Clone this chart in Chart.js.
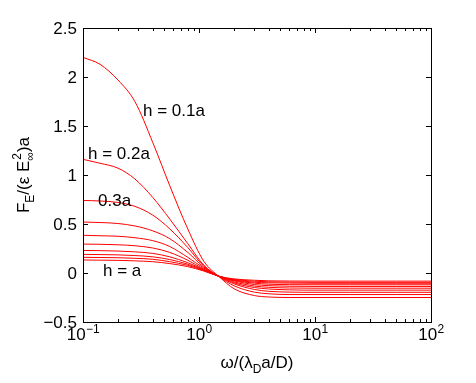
<!DOCTYPE html>
<html>
<head>
<meta charset="utf-8">
<script src="https://cdn.jsdelivr.net/npm/chart.js@4/dist/chart.umd.min.js"></script>
<style>
  html, body { margin: 0; padding: 0; background: #fff; }
  canvas { display: block; }
</style>
</head>
<body>
<canvas id="chart" width="476" height="383"></canvas>
<script>
// frequency samples, omega / (lambda_D a / D)
const omega = [0.1, 0.14, 0.2, 0.28, 0.4, 0.56, 0.8, 1.1, 1.5, 2, 3, 4, 6, 10, 20, 50, 100];

// F_E / (eps E_inf^2) a for h = 0.1a ... h = a
const h01 = [2.2, 2.13, 1.97, 1.75, 1.33, 0.89, 0.45, 0.12, -0.04, -0.16, -0.23, -0.245, -0.25, -0.25, -0.25, -0.25, -0.25];
const h02 = [1.16, 1.12, 1.07, 0.96, 0.77, 0.55, 0.30, 0.08, -0.04, -0.13, -0.195, -0.212, -0.22, -0.22, -0.22, -0.22, -0.22];
const h03 = [0.74, 0.735, 0.72, 0.68, 0.59, 0.45, 0.26, 0.07, -0.04, -0.11, -0.168, -0.187, -0.195, -0.197, -0.197, -0.197, -0.197];
const h04 = [0.52, 0.515, 0.505, 0.48, 0.43, 0.35, 0.21, 0.06, -0.035, -0.1, -0.148, -0.163, -0.172, -0.175, -0.175, -0.175, -0.175];
const h05 = [0.385, 0.38, 0.375, 0.36, 0.33, 0.27, 0.16, 0.05, -0.035, -0.09, -0.133, -0.146, -0.153, -0.155, -0.155, -0.155, -0.155];
const h06 = [0.295, 0.293, 0.288, 0.278, 0.255, 0.21, 0.13, 0.04, -0.035, -0.08, -0.118, -0.129, -0.135, -0.137, -0.137, -0.137, -0.137];
const h07 = [0.23, 0.228, 0.224, 0.216, 0.2, 0.165, 0.105, 0.035, -0.035, -0.075, -0.104, -0.114, -0.119, -0.12, -0.12, -0.12, -0.12];
const h08 = [0.19, 0.188, 0.185, 0.178, 0.165, 0.137, 0.09, 0.03, -0.035, -0.07, -0.094, -0.1, -0.103, -0.105, -0.105, -0.105, -0.105];
const h09 = [0.16, 0.158, 0.156, 0.15, 0.14, 0.115, 0.078, 0.025, -0.035, -0.065, -0.084, -0.09, -0.093, -0.095, -0.095, -0.095, -0.095];
const h10 = [0.133, 0.131, 0.129, 0.124, 0.115, 0.096, 0.065, 0.02, -0.035, -0.06, -0.074, -0.08, -0.082, -0.083, -0.083, -0.083, -0.083];

const curves = [h01, h02, h03, h04, h05, h06, h07, h08, h09, h10];

const yTicks = [-0.5, 0, 0.5, 1, 1.5, 2, 2.5];
const xDecades = [-1, 0, 1, 2];

const curveLabels = [
  { text: 'h = 0.1a', x: 143, y: 111 },
  { text: 'h = 0.2a', x: 88, y: 154 },
  { text: '0.3a', x: 98, y: 201 },
  { text: 'h = a', x: 103, y: 271 }
];

const FONT = '"Liberation Sans", Arial, Helvetica, sans-serif';
const BIG = 17;
const SMALL = 12;

// box, inward ticks and all the text, matlab style
const framePlugin = {
  id: 'frame',
  afterDraw(chart) {
    const ctx = chart.ctx;
    const xs = chart.scales.x;
    const ys = chart.scales.y;
    const a = chart.chartArea;
    ctx.save();
    ctx.strokeStyle = '#000';
    ctx.lineWidth = 1;
    ctx.strokeRect(Math.round(a.left) + 0.5, Math.round(a.top) + 0.5,
      Math.round(a.right - a.left), Math.round(a.bottom - a.top));

    ctx.beginPath();
    // x ticks top + bottom
    xDecades.forEach(d => {
      for (let m = 1; m <= 9; m++) {
        if (d === 2 && m > 1) break;
        const px = Math.round(xs.getPixelForValue(m * Math.pow(10, d))) + 0.5;
        const len = m === 1 ? 5 : 3;
        ctx.moveTo(px, a.bottom); ctx.lineTo(px, a.bottom - len);
        ctx.moveTo(px, a.top); ctx.lineTo(px, a.top + len);
      }
    });
    // y ticks left + right
    yTicks.forEach(v => {
      const py = Math.round(ys.getPixelForValue(v)) + 0.5;
      ctx.moveTo(a.left, py); ctx.lineTo(a.left + 5, py);
      ctx.moveTo(a.right, py); ctx.lineTo(a.right - 5, py);
    });
    ctx.stroke();

    ctx.fillStyle = '#000';
    // y tick labels
    ctx.font = BIG + 'px ' + FONT;
    ctx.textAlign = 'right';
    ctx.textBaseline = 'middle';
    yTicks.forEach(v => {
      const s = v < 0 ? '\u2212' + Math.abs(v) : String(v);
      ctx.fillText(s, a.left - 6, ys.getPixelForValue(v) + 1);
    });

    // x tick labels 10^n
    ctx.textBaseline = 'alphabetic';
    xDecades.forEach(d => {
      const px = xs.getPixelForValue(Math.pow(10, d));
      const exp = d < 0 ? '\u2212' + Math.abs(d) : String(d);
      ctx.font = BIG + 'px ' + FONT;
      const wb = ctx.measureText('10').width;
      ctx.font = SMALL + 'px ' + FONT;
      const we = ctx.measureText(exp).width;
      const x0 = px - (wb + we) / 2;
      ctx.textAlign = 'left';
      ctx.font = BIG + 'px ' + FONT;
      ctx.fillText('10', x0, 340);
      ctx.font = SMALL + 'px ' + FONT;
      ctx.fillText(exp, x0 + wb + 0.5, 333);
    });

    // x axis title
    const xt = [['\u03c9/(\u03bb', BIG, 0], ['D', SMALL, 5], ['a/D)', BIG, 0]];
    let tw = 0;
    xt.forEach(p => { ctx.font = p[1] + 'px ' + FONT; tw += ctx.measureText(p[0]).width; });
    let cx = (a.left + a.right) / 2 - tw / 2;
    xt.forEach(p => {
      ctx.font = p[1] + 'px ' + FONT;
      ctx.fillText(p[0], cx, 368 + p[2]);
      cx += ctx.measureText(p[0]).width;
    });

    // y axis title, rotated
    const yt = [['F', BIG, 0], ['E', SMALL, 5], ['/(\u03b5 E', BIG, 0], ['\u221e', SMALL, 5], ['2', SMALL, -8], [')a', BIG, 0]];
    ctx.save();
    ctx.translate(29, 175);
    ctx.rotate(-Math.PI / 2);
    let w2 = 0;
    yt.forEach((p, i) => {
      if (i === 4) return; // stacked above the infinity sign
      ctx.font = p[1] + 'px ' + FONT; w2 += ctx.measureText(p[0]).width;
    });
    let cy = -w2 / 2;
    yt.forEach((p, i) => {
      ctx.font = p[1] + 'px ' + FONT;
      if (i === 4) {
        ctx.font = SMALL + 'px ' + FONT;
        const wi = ctx.measureText('\u221e').width;
        ctx.fillText(p[0], cy - wi + 1, p[2]);
        return;
      }
      ctx.fillText(p[0], cy, p[2]);
      cy += ctx.measureText(p[0]).width;
    });
    ctx.restore();

    // curve labels
    ctx.font = BIG + 'px ' + FONT;
    ctx.textAlign = 'left';
    ctx.textBaseline = 'middle';
    curveLabels.forEach(l => ctx.fillText(l.text, l.x, l.y));
    ctx.restore();
  }
};

new Chart(document.getElementById('chart'), {
  type: 'line',
  data: {
    datasets: curves.map((c, i) => ({
      label: 'h' + (i + 1),
      data: omega.map((w, k) => ({ x: w, y: c[k] })),
      borderColor: '#ff0000',
      borderWidth: 1,
      pointRadius: 0,
      fill: false,
      cubicInterpolationMode: 'monotone'
    }))
  },
  options: {
    responsive: false,
    animation: false,
    layout: { padding: { left: 83, right: 45, top: 28, bottom: 61 } },
    plugins: { legend: { display: false }, tooltip: { enabled: false } },
    scales: {
      x: {
        type: 'logarithmic', min: 0.1, max: 100,
        ticks: { display: false },
        grid: { display: false },
        border: { display: false },
        afterFit(s) { s.height = 0; }
      },
      y: {
        type: 'linear', min: -0.5, max: 2.5,
        ticks: { display: false },
        grid: { display: false },
        border: { display: false },
        afterFit(s) { s.width = 0; }
      }
    }
  },
  plugins: [framePlugin]
});
</script>
</body>
</html>
